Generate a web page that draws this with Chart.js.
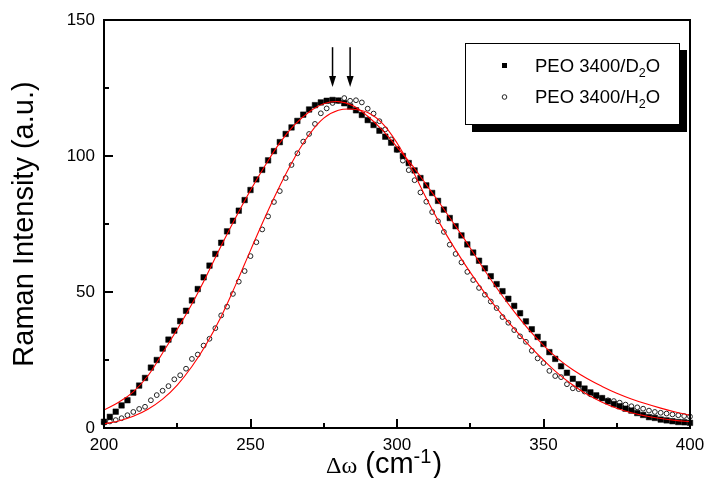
<!DOCTYPE html>
<html><head><meta charset="utf-8">
<script src="https://cdn.jsdelivr.net/npm/chart.js@4.4.1/dist/chart.umd.min.js"></script>
<style>html,body{margin:0;padding:0;background:#fff;}canvas{display:block;}</style>
</head><body>
<canvas id="c" width="706" height="478"></canvas>
<script>
// Raman shift (cm-1) of the measured points
const shiftPts = [200,202,204,206,208,210,212,214,216,218,220,222,224,226,228,230,232,234,236,238,240,242,244,246,248,250,252,254,256,258,260,262,264,266,268,270,272,274,276,278,280,282,284,286,288,290,292,294,296,298,300,302,304,306,308,310,312,314,316,318,320,322,324,326,328,330,332,334,336,338,340,342,344,346,348,350,352,354,356,358,360,362,364,366,368,370,372,374,376,378,380,382,384,386,388,390,392,394,396,398,400];
// PEO 3400 / D2O (filled squares)
const d2oVals = [2.3,4.1,6.0,8.3,10.2,13.0,15.6,18.4,22.2,25.0,29.2,32.5,35.8,39.3,43.1,46.9,51.1,55.4,59.7,64.0,68.1,72.3,76.2,79.9,83.8,87.5,91.4,94.9,98.4,101.8,105.1,108.1,110.5,112.9,115.2,117.1,118.7,119.7,120.3,120.6,120.4,119.4,118.2,116.8,115.1,113.2,111.4,109.3,107.1,104.9,102.4,100.0,97.4,94.7,91.9,89.2,86.4,83.5,80.3,77.2,74.2,70.8,67.5,64.5,61.5,58.7,55.8,52.9,50.3,47.5,44.9,42.2,39.2,36.3,33.5,30.9,27.9,25.4,22.7,20.3,18.1,16.1,14.5,13.1,12.0,11.0,9.8,8.8,8.0,7.1,6.4,5.5,4.8,4.0,3.7,3.1,2.8,2.5,2.2,2.1,1.9];
// PEO 3400 / H2O (open circles)
const h2oVals = [1.9,2.4,2.9,3.6,4.7,5.9,7.0,7.8,10.2,12.1,13.7,15.4,17.9,19.4,21.8,25.4,27.0,30.3,32.8,36.7,41.4,44.6,49.3,53.8,57.7,63.2,68.3,73.0,77.8,83.1,87.1,91.9,96.7,101.0,105.3,108.1,111.8,115.7,117.5,119.5,120.3,121.3,120.3,120.5,119.7,117.4,115.6,112.8,109.8,106.1,102.3,98.3,94.8,91.1,86.6,83.2,79.4,76.0,72.1,67.4,64.0,60.9,57.4,54.4,51.5,49.0,46.5,44.1,40.8,38.7,36.0,33.7,31.7,28.4,25.6,23.9,21.0,19.1,18.7,16.1,14.6,14.3,13.4,12.4,11.6,10.9,10.2,9.9,9.3,8.6,8.0,7.6,7.1,6.4,5.9,5.6,5.3,5.0,4.7,4.4,4.2];
// fitted curves (red lines)
const fitShift = [200,205,210,215,220,225,230,235,240,245,250,255,260,265,270,275,280,285,290,295,300,305,310,315,320,325,330,335,340,345,350,355,360,365,370,375,380,385,390,395,400];
const d2oFit = [6.6,9.5,13.3,19.2,27.6,36.3,45.6,56.0,67.0,77.5,87.4,96.5,104.8,111.4,116.2,119.2,120.0,118.5,114.6,109.5,103.3,96.8,89.5,82.0,74.2,66.2,57.8,50.0,42.8,36.2,30.4,25.4,21.4,18.1,15.3,12.8,10.7,8.9,7.3,5.9,4.7];
const h2oFit = [1.5,2.6,4.3,6.9,10.6,15.8,22.6,31.0,41.0,52.8,65.3,77.6,89.0,99.3,107.8,113.9,116.8,117.2,116.0,112.0,104.8,95.3,84.5,74.5,65.5,57.2,49.6,42.8,36.5,30.5,25.0,20.0,15.8,12.3,9.5,7.3,5.6,4.4,3.5,2.8,2.3];
// axis ticks
const xMajorTicks = [200,250,300,350,400];
const xMinorTicks = [225,275,325,375];
const yMajorTicks = [0,50,100,150];
const yMinorTicks = [25,75,125];
// peak marker arrows
const arrowShifts = [278,284];
const arrowFrom = 140, arrowTo = 125.4;
const seriesNames = ['PEO 3400/D', 'PEO 3400/H'];

const toXY = (xs, ys) => xs.map((x, i) => ({x: x, y: ys[i]}));

const decor = {
  id: 'decor',
  afterDatasetsDraw(chart) {
    const {ctx, chartArea: a, scales: {x, y}} = chart;
    ctx.save();
    // frame
    ctx.strokeStyle = '#000';
    ctx.lineWidth = 2;
    ctx.strokeRect(a.left, a.top, a.right - a.left, a.bottom - a.top);
    // inward ticks
    ctx.beginPath();
    xMajorTicks.forEach(v => { const p = Math.round(x.getPixelForValue(v)); ctx.moveTo(p, a.bottom); ctx.lineTo(p, a.bottom - 9); });
    xMinorTicks.forEach(v => { const p = Math.round(x.getPixelForValue(v)); ctx.moveTo(p, a.bottom); ctx.lineTo(p, a.bottom - 5); });
    yMajorTicks.forEach(v => { const p = Math.round(y.getPixelForValue(v)); ctx.moveTo(a.left, p); ctx.lineTo(a.left + 9, p); });
    yMinorTicks.forEach(v => { const p = Math.round(y.getPixelForValue(v)); ctx.moveTo(a.left, p); ctx.lineTo(a.left + 5, p); });
    ctx.stroke();
    // arrows
    ctx.lineWidth = 1.5;
    ctx.fillStyle = '#000';
    arrowShifts.forEach(v => {
      const px = x.getPixelForValue(v);
      const y0 = y.getPixelForValue(arrowFrom), y1 = y.getPixelForValue(arrowTo);
      ctx.beginPath(); ctx.moveTo(px, y0); ctx.lineTo(px, y1 - 8); ctx.stroke();
      ctx.beginPath(); ctx.moveTo(px, y1); ctx.lineTo(px - 3.5, y1 - 11); ctx.lineTo(px + 3.5, y1 - 11); ctx.closePath(); ctx.fill();
    });
    // legend box with shadow
    const lx = 465, ly = 43, lw = 214, lh = 81;
    ctx.fillStyle = '#000';
    ctx.fillRect(lx + 7, ly + 7, lw + 1, lh + 1);
    ctx.fillStyle = '#fff';
    ctx.fillRect(lx, ly, lw, lh);
    ctx.lineWidth = 1;
    ctx.strokeStyle = '#000';
    ctx.strokeRect(lx + 0.5, ly + 0.5, lw, lh);
    // legend markers
    ctx.fillStyle = '#000';
    ctx.fillRect(502, 63, 5, 5);
    ctx.strokeStyle = '#222';
    ctx.beginPath(); ctx.arc(504.5, 97, 2.3, 0, Math.PI * 2); ctx.stroke();
    // legend texts with subscripts
    ctx.fillStyle = '#000';
    ctx.textAlign = 'left';
    ctx.textBaseline = 'alphabetic';
    const rows = [71.5, 103.3];
    rows.forEach((by, i) => {
      let tx = 535;
      ctx.font = '18.5px "Liberation Sans", Arial, sans-serif';
      ctx.fillText(seriesNames[i], tx, by); tx += ctx.measureText(seriesNames[i]).width;
      ctx.font = '12.5px "Liberation Sans", Arial, sans-serif';
      ctx.fillText('2', tx, by + 5); tx += ctx.measureText('2').width;
      ctx.font = '18.5px "Liberation Sans", Arial, sans-serif';
      ctx.fillText('O', tx, by);
    });
    // x axis title
    let tx = a.left + 222, ty = 473;
    ctx.font = '24px "Liberation Serif", serif';
    ctx.fillText('\u0394\u03C9', tx, ty); tx += ctx.measureText('\u0394\u03C9').width;
    ctx.font = '29px "Liberation Sans", Arial, sans-serif';
    ctx.fillText(' (cm', tx, ty); tx += ctx.measureText(' (cm').width;
    ctx.font = '20px "Liberation Sans", Arial, sans-serif';
    ctx.fillText('-1', tx, ty - 10); tx += ctx.measureText('-1').width;
    ctx.font = '29px "Liberation Sans", Arial, sans-serif';
    ctx.fillText(')', tx + 1, ty);
    ctx.restore();
  }
};

new Chart(document.getElementById('c'), {
  type: 'scatter',
  data: {
    datasets: [
      {label: 'D2O fit', data: toXY(fitShift, d2oFit), showLine: true, borderColor: '#ff0000', borderWidth: 1.1, pointRadius: 0, tension: 0.4, order: 0},
      {label: 'H2O fit', data: toXY(fitShift, h2oFit), showLine: true, borderColor: '#ff0000', borderWidth: 1.1, pointRadius: 0, tension: 0.4, order: 0},
      {label: 'PEO 3400/D2O', data: toXY(shiftPts, d2oVals), pointStyle: 'rect', pointRadius: 3.9, backgroundColor: '#000', borderColor: '#000', borderWidth: 0.5, order: 1, clip: 6},
      {label: 'PEO 3400/H2O', data: toXY(shiftPts, h2oVals), pointStyle: 'circle', pointRadius: 2.4, backgroundColor: 'rgba(255,255,255,0)', borderColor: '#222', borderWidth: 1, order: 2, clip: 6}
    ]
  },
  options: {
    responsive: false,
    animation: false,
    events: [],
    layout: {padding: {left: 0, right: 16, top: 20, bottom: 0}},
    plugins: {legend: {display: false}, tooltip: {enabled: false}},
    scales: {
      x: {
        type: 'linear', position: 'bottom', min: 200, max: 400,
        afterFit: s => { s.height = 50; s.paddingLeft = 0; s.paddingRight = 0; },
        ticks: {stepSize: 50, color: '#000', padding: 7, maxRotation: 0, font: {family: 'Liberation Sans', size: 17}},
        grid: {display: false, drawTicks: false},
        border: {display: false}
      },
      y: {
        type: 'linear', position: 'left', min: 0, max: 150,
        afterFit: s => { s.width = 104; s.paddingTop = 0; s.paddingBottom = 0; },
        ticks: {stepSize: 50, color: '#000', padding: 9, font: {family: 'Liberation Sans', size: 17}},
        grid: {display: false, drawTicks: false},
        border: {display: false},
        title: {display: true, text: 'Raman Intensity (a.u.)', color: '#000', font: {family: 'Liberation Sans', size: 29}, padding: {top: 8, bottom: 0}}
      }
    }
  },
  plugins: [decor]
});
</script>
</body></html>
